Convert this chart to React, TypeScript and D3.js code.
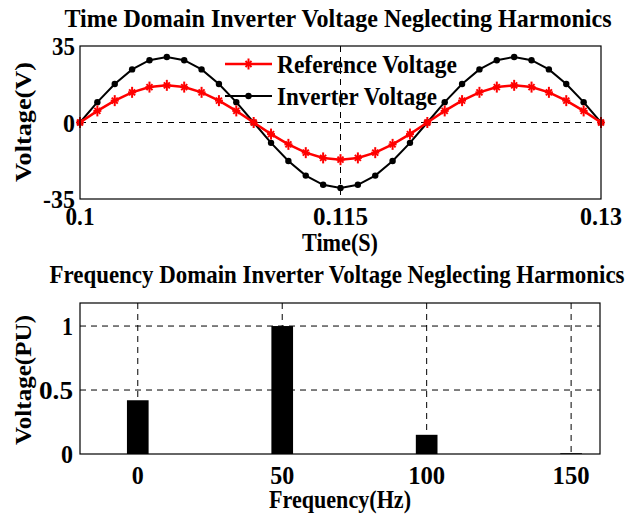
import React from "react";
import * as d3 from "d3";

const timeValues = [
  0.100, 0.101, 0.102, 0.103, 0.104, 0.105, 0.106, 0.107, 0.108, 0.109, 0.110,
  0.111, 0.112, 0.113, 0.114, 0.115, 0.116, 0.117, 0.118, 0.119, 0.120,
  0.121, 0.122, 0.123, 0.124, 0.125, 0.126, 0.127, 0.128, 0.129, 0.130,
];
const referenceVoltage = [
  0, 5.3, 10.0, 13.8, 16.2, 17.0, 16.2, 13.8, 10.0, 5.3, 0,
  -5.3, -10.0, -13.8, -16.2, -17.0, -16.2, -13.8, -10.0, -5.3, 0,
  5.3, 10.0, 13.8, 16.2, 17.0, 16.2, 13.8, 10.0, 5.3, 0,
];
const inverterVoltage = [
  0, 9.3, 17.6, 24.3, 28.5, 30.0, 28.5, 24.3, 17.6, 9.3, 0,
  -9.3, -17.6, -24.3, -28.5, -30.0, -28.5, -24.3, -17.6, -9.3, 0,
  9.3, 17.6, 24.3, 28.5, 30.0, 28.5, 24.3, 17.6, 9.3, 0,
];
const timeTicks = [0.1, 0.115, 0.13];
const timeTickLabels = ["0.1", "0.115", "0.13"];
const voltTicks = [-35, 0, 35];

const freqCategories = [0, 50, 100, 150];
const freqValues = [0.42, 1.0, 0.15, 0.006];
const freqYTicks = [0, 0.5, 1];
const freqYTickLabels = ["0", "0.5", "1"];

const FONT = "Liberation Serif";

export default function App() {
  const W = 627, H = 516;
  const t = { l: 80, r: 601, t: 46, b: 199 };
  const xT = d3.scaleLinear().domain([0.1, 0.13]).range([t.l, t.r]);
  const yT = d3.scaleLinear().domain([-35, 35]).range([t.b, t.t]);
  const pts = timeValues.map((tv, i) => ({ t: tv, r: referenceVoltage[i], v: inverterVoltage[i] }));
  const lineRef = d3.line<any>().x((d) => xT(d.t)).y((d) => yT(d.r));
  const lineInv = d3.line<any>().x((d) => xT(d.t)).y((d) => yT(d.v));

  const b = { l: 80, r: 600, t: 303, b: 454 };
  const xB = d3.scaleLinear().domain([-20, 160]).range([b.l, b.r]);
  const yB = d3.scaleLinear().domain([0, 1.18]).range([b.b, b.t]);
  const barW = xB(7.5) - xB(0);

  const star = (cx: number, cy: number, key: string | number) => (
    <g key={key} stroke="#ff0000" strokeWidth={2}>
      <line x1={cx} y1={cy - 5.5} x2={cx} y2={cy + 5.5} />
      <line x1={cx - 4} y1={cy} x2={cx + 4} y2={cy} />
      <line x1={cx - 3} y1={cy - 3} x2={cx + 3} y2={cy + 3} />
      <line x1={cx - 3} y1={cy + 3} x2={cx + 3} y2={cy - 3} />
    </g>
  );

  const dash = "6,5";
  const tickW: Record<string, number> = { "35": 23, "0": 12, "-35": 32, "0.1": 29, "0.115": 55, "0.13": 42, "0.5": 34, "1": 11, "50": 24, "100": 37, "150": 37 };
  const TK = 26;
  return (
    <svg width={W} height={H} style={{ position: "absolute", left: 0, top: 0, background: "#fff" }} fontFamily={FONT} fontWeight="bold">
      <rect width={W} height={H} fill="#fff" />
      <text x={338} y={27} fontSize={25} textAnchor="middle" textLength={547} lengthAdjust="spacingAndGlyphs">
        Time Domain Inverter Voltage Neglecting Harmonics
      </text>
      <line x1={xT(0.115)} x2={xT(0.115)} y1={t.t} y2={t.b} stroke="#000" strokeWidth={1} strokeDasharray={dash} />
      <line x1={t.l} x2={t.r} y1={yT(0)} y2={yT(0)} stroke="#000" strokeWidth={1} strokeDasharray={dash} />
      <path d={lineInv(pts) || ""} fill="none" stroke="#000" strokeWidth={2} />
      {pts.map((d, i) => (
        <circle key={"c" + i} cx={xT(d.t)} cy={yT(d.v)} r={3.2} fill="#000" />
      ))}
      <path d={lineRef(pts) || ""} fill="none" stroke="#ff0000" strokeWidth={2.5} />
      {pts.map((d, i) => star(xT(d.t), yT(d.r), "s" + i))}
      <rect x={t.l} y={t.t} width={t.r - t.l} height={t.b - t.t} fill="none" stroke="#000" strokeWidth={1.2} />
      <line x1={225} x2={272} y1={64} y2={64} stroke="#ff0000" strokeWidth={2.5} />
      {star(248.5, 64, "ls")}
      <text x={277} y={73} fontSize={25} textLength={180} lengthAdjust="spacingAndGlyphs">Reference Voltage</text>
      <line x1={225} x2={272} y1={96} y2={96} stroke="#000" strokeWidth={2} />
      <circle cx={248.5} cy={96} r={3.2} fill="#000" />
      <text x={277} y={105} fontSize={25} textLength={160} lengthAdjust="spacingAndGlyphs">Inverter Voltage</text>
      {voltTicks.map((v) => (
        <text key={"vt" + v} x={75} y={yT(v) + 9} fontSize={TK} textAnchor="end" textLength={tickW[String(v)]} lengthAdjust="spacingAndGlyphs">{v}</text>
      ))}
      {timeTicks.map((v, i) => (
        <text key={"tt" + v} x={xT(v)} y={225} fontSize={TK} textAnchor="middle" textLength={tickW[timeTickLabels[i]]} lengthAdjust="spacingAndGlyphs">{timeTickLabels[i]}</text>
      ))}
      <text x={340} y={251} fontSize={25} textAnchor="middle" textLength={76} lengthAdjust="spacingAndGlyphs">Time(S)</text>
      <text transform={`translate(31,122) rotate(-90)`} fontSize={24} textAnchor="middle" textLength={120} lengthAdjust="spacingAndGlyphs">Voltage(V)</text>

      <text x={337} y={283} fontSize={25} textAnchor="middle" textLength={575} lengthAdjust="spacingAndGlyphs">
        Frequency Domain Inverter Voltage Neglecting Harmonics
      </text>
      {freqCategories.map((f) => (
        <line key={"gx" + f} x1={xB(f)} x2={xB(f)} y1={b.t} y2={b.b} stroke="#000" strokeWidth={1} strokeDasharray={dash} />
      ))}
      {freqYTicks.filter((v) => v > 0).map((v) => (
        <line key={"gy" + v} x1={b.l} x2={b.r} y1={yB(v)} y2={yB(v)} stroke="#000" strokeWidth={1} strokeDasharray={dash} />
      ))}
      {freqCategories.map((f, i) => (
        <rect key={"bar" + f} x={xB(f) - barW / 2} y={yB(freqValues[i])} width={barW} height={yB(0) - yB(freqValues[i])} fill="#000" />
      ))}
      <rect x={b.l} y={b.t} width={b.r - b.l} height={b.b - b.t} fill="none" stroke="#000" strokeWidth={1.2} />
      {freqYTicks.map((v, i) => (
        <text key={"fy" + v} x={73} y={yB(v) + 9} fontSize={TK} textAnchor="end" textLength={tickW[freqYTickLabels[i]]} lengthAdjust="spacingAndGlyphs">{freqYTickLabels[i]}</text>
      ))}
      {freqCategories.map((f) => (
        <text key={"fx" + f} x={xB(f)} y={484} fontSize={TK} textAnchor="middle" textLength={tickW[String(f)]} lengthAdjust="spacingAndGlyphs">{f}</text>
      ))}
      <text x={340} y={508} fontSize={25} textAnchor="middle" textLength={142} lengthAdjust="spacingAndGlyphs">Frequency(Hz)</text>
      <text transform={`translate(31,380) rotate(-90)`} fontSize={24} textAnchor="middle" textLength={130} lengthAdjust="spacingAndGlyphs">Voltage(PU)</text>
    </svg>
  );
}
